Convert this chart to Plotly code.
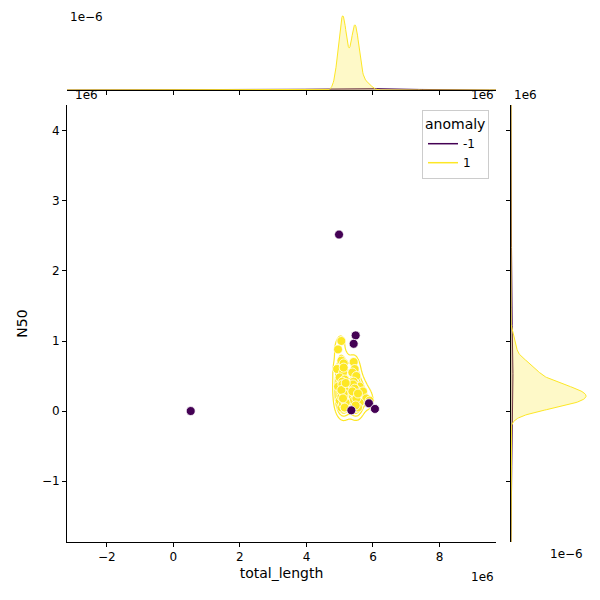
import numpy as np
import plotly.graph_objects as go

# values in units of 1e6
anom_x = [4.98, 0.52, 5.48, 5.42, 5.35, 5.88, 6.06]
anom_y = [2.52, 0.0, 1.08, 0.96, 0.01, 0.11, 0.03]

norm_pts = [(5.05,1.0),(4.95,0.88),(5.05,0.72),(5.12,0.68),(5.42,0.7),(5.45,0.6),(4.92,0.6),
            (5.1,0.55),(5.38,0.55),(5.5,0.5),(5.0,0.48),(5.15,0.45),(5.42,0.42),(5.08,0.42),
            (5.6,0.35),(4.95,0.35),(5.1,0.32),(5.4,0.32),(5.5,0.3),(5.7,0.28),(5.05,0.25),
            (5.15,0.22),(5.45,0.22),(5.52,0.2),(5.8,0.18),(5.0,0.15),(5.12,0.15),(5.42,0.12),
            (5.5,0.1),(5.6,0.12),(5.9,0.15),(5.05,0.05),(5.15,0.05),(5.45,0.04),(5.55,0.05),
            (5.1,0.1),(5.4,0.2),(5.45,0.25),(5.15,0.3),(5.05,0.2),(5.4,0.38),(5.12,0.62),
            (5.42,0.15),(5.18,0.12),(5.5,0.18),(5.12,0.25),(5.45,0.32),(5.08,0.38),(5.48,0.08),
            (5.15,0.05),(5.38,0.28),(5.05,0.3),(5.55,0.25),(5.1,0.18),(5.18,0.4)]
norm_x = [p[0] for p in norm_pts]
norm_y = [p[1] for p in norm_pts]

PURPLE = "#440154"
YELLOW = "#fde725"
n_tot = len(anom_x) + len(norm_x)


def kde1d(data, grid, bw_scale=1.0):
    d = np.asarray(data)
    h = d.std(ddof=1) * len(d) ** (-1 / 5) * bw_scale
    z = (grid[:, None] - d[None, :]) / h
    return np.exp(-0.5 * z ** 2).sum(1) / (len(d) * h * np.sqrt(2 * np.pi))


def kde2d(xd, yd, gx, gy):
    xd, yd = np.asarray(xd), np.asarray(yd)
    n = len(xd)
    f = n ** (-1 / 6)
    hx, hy = xd.std(ddof=1) * f, yd.std(ddof=1) * f
    X, Y = np.meshgrid(gx, gy)
    Z = np.zeros_like(X)
    for a, b in zip(xd, yd):
        Z += np.exp(-0.5 * (((X - a) / hx) ** 2 + ((Y - b) / hy) ** 2))
    return Z / (n * 2 * np.pi * hx * hy)


fig = go.Figure()

# 2D kde contours for normal points
gx = np.linspace(4.3, 6.5, 150)
gy = np.linspace(-0.4, 1.4, 150)
Z = kde2d(norm_x, norm_y, gx, gy)
zmax = Z.max()
fig.add_trace(go.Contour(x=gx, y=gy, z=Z, contours=dict(coloring="lines", start=zmax * 0.08,
                         end=zmax * 0.95, size=zmax * 0.12), line=dict(width=1.2),
                         colorscale=[[0, YELLOW], [1, YELLOW]], showscale=False,
                         hoverinfo="skip", showlegend=False))

fig.add_trace(go.Scatter(x=norm_x, y=norm_y, mode="markers", showlegend=False,
                         marker=dict(color=YELLOW, size=9, line=dict(color="white", width=0.8))))
fig.add_trace(go.Scatter(x=anom_x, y=anom_y, mode="markers", showlegend=False,
                         marker=dict(color=PURPLE, size=9, line=dict(color="white", width=0.8))))

# legend entries
fig.add_trace(go.Scatter(x=[None], y=[None], mode="lines", name="-1", line=dict(color=PURPLE, width=1.5)))
fig.add_trace(go.Scatter(x=[None], y=[None], mode="lines", name="1", line=dict(color=YELLOW, width=1.5)))

# marginals
mx = np.linspace(-3.2, 9.7, 800)
my = np.linspace(-1.87, 4.37, 800)
for xs, ys, col, fc in [(anom_x, anom_y, PURPLE, "rgba(68,1,84,0.25)"),
                        (norm_x, norm_y, YELLOW, "rgba(253,231,37,0.25)")]:
    w = len(xs) / n_tot
    dx = kde1d(xs, mx) * w
    dy = kde1d(ys, my) * w
    fig.add_trace(go.Scatter(x=mx, y=dx, xaxis="x2", yaxis="y2", mode="lines", fill="tozeroy",
                             fillcolor=fc, line=dict(color=col, width=1), showlegend=False))
    fig.add_trace(go.Scatter(x=dy, y=my, xaxis="x3", yaxis="y3", mode="lines", fill="tozerox",
                             fillcolor=fc, line=dict(color=col, width=1), showlegend=False))

# page body has an 8px margin; compensate
o = 8 / 600


def px_x(p):
    return p / 600 - o


def px_y(p):
    return 1 - p / 600 + o


ax = dict(showgrid=False, zeroline=False, showline=True, linecolor="black", ticks="outside",
          ticklen=4, tickcolor="black", tickfont=dict(size=12, color="black"), automargin=False)
fig.update_layout(
    width=600, height=600, margin=dict(l=0, r=0, t=0, b=0),
    plot_bgcolor="white", paper_bgcolor="white",
    font=dict(family="DejaVu Sans", size=12, color="black"),
    xaxis=dict(**ax, domain=[px_x(67), px_x(496)], range=[-3.2, 9.7], tickvals=[-2, 0, 2, 4, 6, 8],
               title=dict(text="total_length", standoff=4)),
    yaxis=dict(**ax, domain=[px_y(542), px_y(105)], range=[-1.87, 4.37], tickvals=[-1, 0, 1, 2, 3, 4],
               title=dict(text="N50", standoff=10)),
    xaxis2=dict(**ax, domain=[px_x(67), px_x(496)], range=[-3.2, 9.7], anchor="y2",
                tickvals=[-2, 0, 2, 4, 6, 8], showticklabels=False),
    yaxis2=dict(showgrid=False, zeroline=False, visible=False, domain=[px_y(90), px_y(12)], anchor="x2",
                rangemode="tozero"),
    xaxis3=dict(showgrid=False, zeroline=False, visible=False, domain=[px_x(511), px_x(590)], anchor="y3",
                rangemode="tozero"),
    yaxis3=dict(**ax, domain=[px_y(542), px_y(105)], range=[-1.87, 4.37], anchor="x3",
                tickvals=[-1, 0, 1, 2, 3, 4], showticklabels=False),
    legend=dict(title=dict(text="anomaly"), x=px_x(489), y=px_y(110), xanchor="right", yanchor="top",
                bgcolor="white", bordercolor="#cccccc", borderwidth=1, font=dict(size=12)),
)

# offset labels: (text, x px, y px, xanchor, yanchor)
for txt, x, y, xa, ya in [("1e6", 87, 104, "center", "bottom"),
                          ("1e6", 496, 568, "right", "top"),
                          ("1e\u22126", 87, 8, "center", "top"),
                          ("1e6", 496, 104, "right", "bottom"),
                          ("1e6", 525, 104, "center", "bottom"),
                          ("1e\u22126", 566, 545, "center", "top")]:
    fig.add_annotation(text=txt, xref="paper", yref="paper", x=px_x(x), y=px_y(y), showarrow=False,
                       xanchor=xa, yanchor=ya, font=dict(size=12))

fig.write_html("out.html")
